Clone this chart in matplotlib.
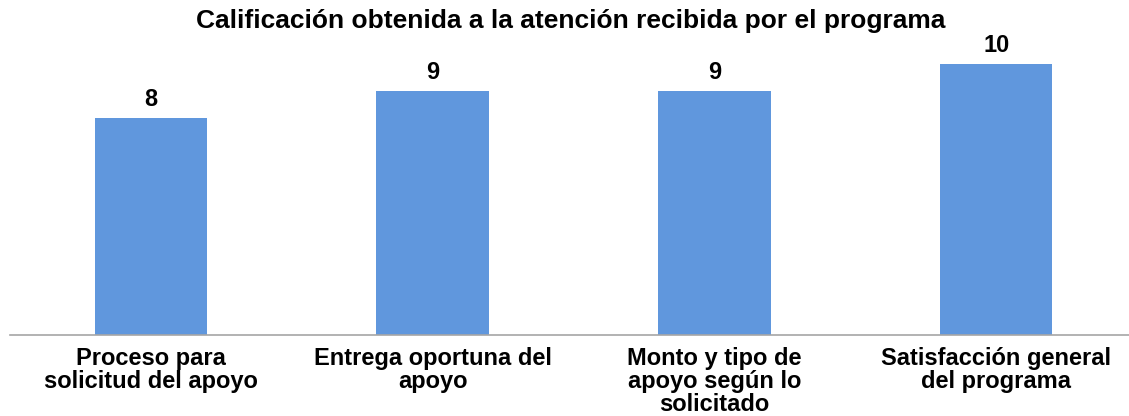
import matplotlib.pyplot as plt

categories = ["Proceso para\nsolicitud del apoyo", "Entrega oportuna del\napoyo",
              "Monto y tipo de\napoyo según lo\nsolicitado", "Satisfacción general\ndel programa"]
values = [8, 9, 9, 10]
title = "Calificación obtenida a la atención recibida por el programa"

plt.rcParams['font.family'] = ['Liberation Sans', 'DejaVu Sans']

fig = plt.figure(figsize=(11.29, 4.16), dpi=100)
ax = fig.add_axes([10 / 1129, 81 / 416, 1127 / 1129, 298 / 416])

x = range(len(values))
ax.bar(x, values, width=0.4, color="#6097DD")
for xi, v in zip(x, values):
    ax.annotate(str(v), (xi, v), xytext=(0, 5), textcoords="offset points",
                ha="center", va="bottom", fontsize=17, fontweight="bold")

ax.set_xlim(-0.5, 3.5)
ax.set_ylim(0, 11)
ax.set_yticks([])
ax.set_xticks(list(x))
ax.set_xticklabels(categories, fontsize=17, fontweight="bold", linespacing=0.98)
ax.tick_params(axis="x", length=0, pad=9)
for s in ["top", "right", "left"]:
    ax.spines[s].set_visible(False)
ax.spines["bottom"].set_color("#A6A6A6")
ax.spines["bottom"].set_linewidth(1.2)

fig.text(571 / 1129, 1 - 21 / 416, title, ha="center", va="center",
         fontsize=19, fontweight="bold")

fig.savefig("out.png", dpi=100)
